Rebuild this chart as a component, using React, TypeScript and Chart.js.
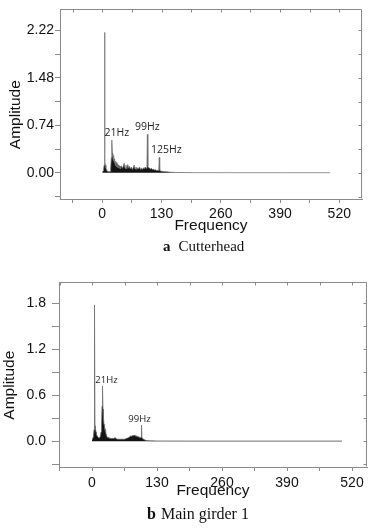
import React, { useEffect, useRef } from "react";
import { Chart, registerables } from "chart.js";

Chart.register(...registerables);

// ---------- Panel a: Cutterhead ----------
const cutterFreq = [
  0, 1, 2, 3, 4, 5, 6, 7, 8, 9, 10, 11, 12, 13, 14, 15, 16, 17, 18, 19, 20,
  21, 22, 23, 24, 25, 26, 27, 28, 29, 30, 31, 32, 33, 34, 35, 36, 37, 38, 39, 40,
  42, 44, 46, 48, 50, 52, 54, 56, 58, 60, 62, 64, 66, 68, 70, 72, 74, 76, 78, 80,
  82, 84, 86, 88, 90, 92, 94, 96, 98, 99, 100, 102, 104, 106, 108, 110, 112, 114,
  116, 118, 120, 122, 124, 125, 126, 128, 130, 134, 138, 142, 146, 150, 155, 160,
  170, 180, 200, 250, 300, 400, 500,
];
const cutterAmp = [
  0.01, 0.02, 0.03, 0.05, 0.12, 2.19, 0.16, 0.12, 0.08, 0.05, 0.04, 0.03, 0.02, 0.02, 0.015, 0.02, 0.015, 0.02, 0.03, 0.07, 0.24,
  0.51, 0.31, 0.25, 0.19, 0.27, 0.16, 0.22, 0.13, 0.18, 0.11, 0.16, 0.09, 0.14, 0.08, 0.12, 0.08, 0.11, 0.07, 0.1, 0.06,
  0.11, 0.07, 0.1, 0.15, 0.07, 0.12, 0.06, 0.13, 0.07, 0.1, 0.06, 0.09, 0.05, 0.08, 0.12, 0.06, 0.09, 0.05, 0.08, 0.06,
  0.09, 0.05, 0.07, 0.05, 0.08, 0.06, 0.09, 0.07, 0.1, 0.6, 0.1, 0.08, 0.07, 0.06, 0.07, 0.05, 0.06, 0.04,
  0.05, 0.04, 0.04, 0.035, 0.04, 0.24, 0.04, 0.03, 0.025, 0.02, 0.018, 0.015, 0.012, 0.01, 0.008, 0.006,
  0.005, 0.004, 0.003, 0.003, 0.002, 0.002, 0.002,
];
const cutterPeakFreq = [21, 99, 125];
const cutterPeakAmp = [0.51, 0.6, 0.24];
const cutterPeakText = ["21Hz", "99Hz", "125Hz"];
const cutterYLabels = [0, 0.74, 1.48, 2.22];

// ---------- Panel b: Main girder 1 ----------
const girderFreq = [
  0, 1, 2, 3, 4, 5, 6, 7, 8, 9, 10, 11, 12, 13, 14, 15, 16, 17, 18, 19, 20,
  21, 22, 23, 24, 25, 26, 27, 28, 29, 30, 32, 34, 36, 38, 40, 42, 44, 46, 48, 50,
  52, 54, 56, 58, 60, 62, 64, 66, 68, 70, 72, 74, 76, 78, 80, 82, 84, 86, 88, 90,
  92, 94, 96, 98, 99, 100, 102, 104, 106, 108, 110, 115, 120, 130, 150, 200, 300, 400, 500,
];
const girderAmp = [
  0.02, 0.03, 0.05, 0.08, 0.15, 1.78, 0.2, 0.16, 0.12, 0.09, 0.07, 0.06, 0.05, 0.05, 0.04, 0.05, 0.06, 0.08, 0.12, 0.2, 0.46,
  0.72, 0.42, 0.3, 0.22, 0.2, 0.13, 0.16, 0.09, 0.07, 0.06, 0.04, 0.05, 0.03, 0.04, 0.03, 0.04, 0.03, 0.05, 0.03, 0.03,
  0.02, 0.03, 0.02, 0.03, 0.02, 0.03, 0.02, 0.03, 0.03, 0.04, 0.04, 0.05, 0.06, 0.07, 0.06, 0.08, 0.07, 0.08, 0.06, 0.07,
  0.05, 0.06, 0.04, 0.05, 0.21, 0.04, 0.03, 0.02, 0.015, 0.01, 0.008, 0.005, 0.004, 0.003, 0.003, 0.002, 0.002, 0.002, 0.002,
];
const girderPeakFreq = [21, 99];
const girderPeakAmp = [0.72, 0.21];
const girderPeakText = ["21Hz", "99Hz"];
const girderYLabels = [0, 0.6, 1.2, 1.8];

const xTickLabels = [0, 130, 260, 390, 520];

const FRAME = "#8a8a8a";
const SANS = '"Liberation Sans", Arial, sans-serif';

type PanelCfg = {
  freq: number[];
  amp: number[];
  peakFreq: number[];
  peakAmp: number[];
  peakText: string[];
  peakDx: number[];
  peakDy: number;
  peakFont: number;
  yLabels: number[];
  yDecimals: number;
  yStep: number;
  yMin: number;
  yMax: number;
  xMin: number;
  xMax: number;
  width: number;
  height: number;
  padTop: number;
  padRight: number;
  yAxisW: number;
  xAxisH: number;
  yTickLen: number;
  yTickPad: number;
  xTickPad: number;
  xTitlePad: number;
  yTitleX: number;
  yTitleDy: number;
};

const isLabel = (v: number, arr: number[]) => arr.some((a) => Math.abs(a - v) < 1e-6);

function makeChart(canvas: HTMLCanvasElement, p: PanelCfg) {
  const framePlugin = {
    id: "frameAndText",
    afterDatasetsDraw(chart: any) {
      const { ctx, scales } = chart;
      const x = scales.x;
      const y = scales.y;
      ctx.save();
      ctx.fillStyle = "#222";
      ctx.font = `${p.peakFont}px "Open Sans", "DejaVu Sans", sans-serif`;
      ctx.textAlign = "center";
      ctx.textBaseline = "middle";
      p.peakText.forEach((t, i) => {
        const px = x.getPixelForValue(p.peakFreq[i]) + p.peakDx[i];
        const py = y.getPixelForValue(p.peakAmp[i]) + p.peakDy;
        ctx.fillText(t, px, py);
      });
      ctx.restore();
    },
    afterDraw(chart: any) {
      const { ctx, chartArea, scales } = chart;
      const { left, right, top, bottom } = chartArea;
      const x = scales.x;
      const y = scales.y;
      ctx.save();
      ctx.strokeStyle = FRAME;
      ctx.lineWidth = 1;
      const L = Math.round(left) + 0.5;
      const R = Math.round(right) - 0.5;
      const T = Math.round(top) + 0.5;
      const B = Math.round(bottom) - 0.5;
      ctx.beginPath();
      ctx.moveTo(L, T);
      ctx.lineTo(R, T);
      ctx.lineTo(R, B);
      ctx.stroke();
      ctx.beginPath();
      x.ticks.forEach((t: any) => {
        const px = Math.round(x.getPixelForValue(t.value)) + 0.5;
        ctx.moveTo(px, T);
        ctx.lineTo(px, T + 3);
      });
      y.ticks.forEach((t: any) => {
        const py = Math.round(y.getPixelForValue(t.value)) + 0.5;
        ctx.moveTo(R, py);
        ctx.lineTo(R - 3, py);
      });
      ctx.stroke();
      // y axis title
      ctx.fillStyle = "#111";
      ctx.font = `15.5px ${SANS}`;
      ctx.textAlign = "center";
      ctx.textBaseline = "middle";
      ctx.translate(p.yTitleX, (top + bottom) / 2 + p.yTitleDy);
      ctx.rotate(-Math.PI / 2);
      ctx.fillText("Amplitude", 0, 0);
      ctx.restore();
    },
  };

  return new Chart(canvas, {
    type: "line",
    data: {
      datasets: [
        {
          data: p.freq.map((f, i) => ({ x: f, y: p.amp[i] })),
          borderColor: "#6a6a6a",
          borderWidth: 0.7,
          backgroundColor: "#141414",
          fill: "origin",
          pointRadius: 0,
          tension: 0,
        },
      ],
    },
    options: {
      animation: false,
      responsive: false,
      maintainAspectRatio: false,
      devicePixelRatio: 1,
      layout: { padding: { top: p.padTop, right: p.padRight, left: 0, bottom: 0 } },
      plugins: {
        legend: { display: false },
        tooltip: { enabled: false },
        title: { display: false },
      },
      scales: {
        x: {
          type: "linear",
          position: "bottom",
          min: p.xMin,
          max: p.xMax,
          afterFit: (s: any) => {
            s.height = p.xAxisH;
          },
          grid: { drawOnChartArea: false, drawTicks: true, tickLength: 4, color: FRAME },
          border: { display: true, color: FRAME, width: 1 },
          ticks: {
            stepSize: 65,
            autoSkip: false,
            maxRotation: 0,
            includeBounds: false,
            padding: p.xTickPad,
            color: "#111",
            font: { family: SANS, size: 14 },
            callback: (v: any) => (isLabel(Number(v), xTickLabels) ? String(Math.round(Number(v))) : ""),
          },
          title: {
            display: true,
            text: "Frequency",
            color: "#111",
            font: { family: SANS, size: 15.5 },
            padding: { top: 0, bottom: p.xTitlePad },
          },
        },
        y: {
          type: "linear",
          position: "left",
          min: p.yMin,
          max: p.yMax,
          afterFit: (s: any) => {
            s.width = p.yAxisW;
          },
          grid: { drawOnChartArea: false, drawTicks: true, tickLength: p.yTickLen, color: FRAME },
          border: { display: true, color: FRAME, width: 1 },
          ticks: {
            stepSize: p.yStep,
            autoSkip: false,
            includeBounds: false,
            padding: p.yTickPad,
            color: "#111",
            font: { family: SANS, size: 14 },
            callback: (v: any) => (isLabel(Number(v), p.yLabels) ? Number(v).toFixed(p.yDecimals) : ""),
          },
          title: { display: false },
        },
      },
    },
    plugins: [framePlugin as any],
  });
}

function Panel({ cfg, top }: { cfg: PanelCfg; top: number }) {
  const ref = useRef<HTMLCanvasElement | null>(null);
  useEffect(() => {
    if (!ref.current) return;
    const chart = makeChart(ref.current, cfg);
    return () => chart.destroy();
  }, [cfg]);
  return (
    <canvas
      ref={ref}
      width={cfg.width}
      height={cfg.height}
      style={{ position: "absolute", left: 0, top, width: cfg.width, height: cfg.height, display: "block" }}
    />
  );
}

const cutterCfg: PanelCfg = {
  freq: cutterFreq,
  amp: cutterAmp,
  peakFreq: cutterPeakFreq,
  peakAmp: cutterPeakAmp,
  peakText: cutterPeakText,
  peakDx: [5, 0, 7],
  peakDy: -7,
  peakFont: 10.5,
  yLabels: cutterYLabels,
  yDecimals: 2,
  yStep: 0.37,
  yMin: -0.408,
  yMax: 2.548,
  xMin: -92.7,
  xMax: 569.8,
  width: 381,
  height: 240,
  padTop: 3,
  padRight: 19,
  yAxisW: 60,
  xAxisH: 41,
  yTickLen: 5,
  yTickPad: 1,
  xTickPad: 2.5,
  xTitlePad: 5,
  yTitleX: 15.8,
  yTitleDy: 10.5,
};

const girderCfg: PanelCfg = {
  freq: girderFreq,
  amp: girderAmp,
  peakFreq: girderPeakFreq,
  peakAmp: girderPeakAmp,
  peakText: girderPeakText,
  peakDx: [4, -2],
  peakDy: -5.5,
  peakFont: 9.5,
  yLabels: girderYLabels,
  yDecimals: 1,
  yStep: 0.3,
  yMin: -0.338,
  yMax: 2.074,
  xMin: -66,
  xMax: 550,
  width: 381,
  height: 240,
  padTop: 9,
  padRight: 14,
  yAxisW: 59,
  xAxisH: 41,
  yTickLen: 7,
  yTickPad: 6,
  xTickPad: 3.5,
  xTitlePad: 8,
  yTitleX: 9.5,
  yTitleDy: 10.5,
};

const captionStyle: React.CSSProperties = {
  position: "absolute",
  fontFamily: '"Liberation Serif", "Times New Roman", serif',
  color: "#111",
  whiteSpace: "nowrap",
  lineHeight: "18px",
};

export default function App() {
  return (
    <div style={{ position: "absolute", left: 0, top: 0, width: 381, height: 530, background: "#fff", overflow: "hidden" }}>
      <Panel cfg={cutterCfg} top={0} />
      <div style={{ ...captionStyle, left: 163, top: 237, fontSize: 15 }}>
        <b>a</b>
        <span style={{ marginLeft: 8 }}>Cutterhead</span>
      </div>
      <Panel cfg={girderCfg} top={268} />
      <div style={{ ...captionStyle, left: 147, top: 505, fontSize: 16 }}>
        <b>b</b>
        <span style={{ marginLeft: 5 }}>Main girder 1</span>
      </div>
    </div>
  );
}
